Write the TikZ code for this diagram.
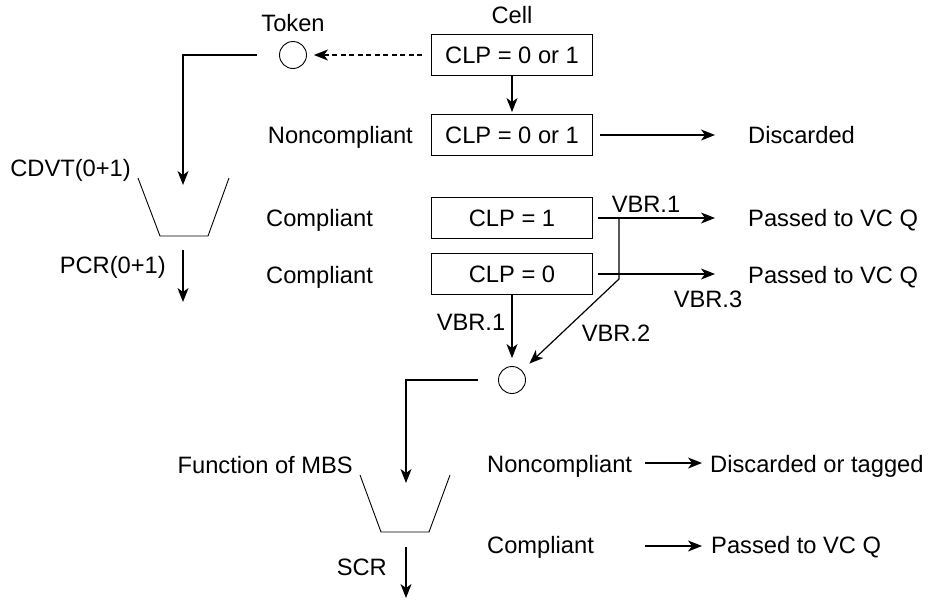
\documentclass[tikz,border=0pt]{standalone}
\usepackage{fontspec}
\setmainfont{Liberation Sans}
\usetikzlibrary{arrows.meta}
\begin{document}
\begin{tikzpicture}[x=1pt,y=-1pt,
  every node/.style={font=\fontsize{23.7}{28}\selectfont},
  lbl/.style={inner sep=0pt},
  clpbox/.style={draw,line width=0.9pt,minimum width=161pt,minimum height=41pt,inner sep=0pt},
  tokcirc/.style={draw,circle,line width=0.9pt,minimum size=27pt,inner sep=0pt},
  flow/.style={line width=1.2pt,-{Stealth[length=14pt,width=11pt,inset=4pt]}},
  funnel/.style={line width=0.9pt}]
\useasboundingbox (0,0) rectangle (931,600);

% upper path: cell, token and policing by PCR(0+1)
\node[lbl,anchor=base] (cell) at (512,23) {Cell};
\node[clpbox] (b1) at (512,55) {CLP = 0 or 1};
\node[tokcirc] (tok) at (293,55) {};
\node[lbl,anchor=base] (toklbl) at (293,31) {Token};
\node[clpbox] (b2) at (512,135) {CLP = 0 or 1};
\node[lbl,anchor=base east] (nc1) at (413,143) {Noncompliant};
\node[lbl,anchor=base west] (disc) at (748,143) {Discarded};
\node[clpbox] (b3) at (512,218) {CLP = 1};
\node[clpbox] (b4) at (512,274) {CLP = 0};
\node[lbl,anchor=base west] (cp1) at (266,226) {Compliant};
\node[lbl,anchor=base west] (cp2) at (266,283) {Compliant};
\node[lbl,anchor=base west] (pass1) at (748,226) {Passed to VC Q};
\node[lbl,anchor=base west] (pass2) at (748,283) {Passed to VC Q};
\node[lbl,anchor=base east] (cdvt) at (131,176) {CDVT(0+1)};
\node[lbl,anchor=base east] (pcr) at (166,273) {PCR(0+1)};

% first leaky bucket
\draw[funnel] (138,178) -- (160,236) -- (208,236) -- (229,178);
\coordinate (f1in) at (183,185);
\coordinate (f1out) at (183,250);
\coordinate (f1end) at (183,302);

\draw[line width=1.2pt,dash pattern=on 5pt off 3.5pt,-{Stealth[length=14pt,width=11pt,inset=4pt]},shorten <=9pt,shorten >=7pt] (b1.west) -- (tok.east);
\draw[flow] ([xshift=-22pt]tok.west) -| (f1in);
\draw[flow,shorten >=2pt] (b1.south) -- (b2.north);
\draw[flow,shorten <=7pt,shorten >=33pt] (b2.east) -- (b2.east -| disc.west);
\draw[flow] (f1out) -- (f1end);
\draw[flow,shorten <=5pt,shorten >=33pt] (b3.east) -- (b3.east -| pass1.west);
\draw[flow,shorten <=5pt,shorten >=33pt] (b4.east) -- (b4.east -| pass2.west);

% VBR labels and the merge into the second token
\node[lbl,anchor=base] (vbr1a) at (646,212) {VBR.1};
\node[lbl,anchor=base] (vbr3) at (708,307) {VBR.3};
\node[lbl,anchor=base] (vbr2) at (616,341) {VBR.2};
\node[lbl,anchor=base] (vbr1b) at (471,330) {VBR.1};
\node[tokcirc] (c2) at (512,380) {};
\coordinate (j1) at (619,218);
\coordinate (j2) at (619,279);
\draw[flow,shorten >=10pt] (j1) -- (j2) -- (c2);
\draw[flow,shorten >=8pt] (b4.south) -- (c2.north);

% second leaky bucket (MBS)
\draw[funnel] (360,475) -- (381,532) -- (429,532) -- (450,475);
\coordinate (f2in) at (406,483);
\coordinate (f2out) at (406,547);
\coordinate (f2end) at (406,598);
\node[lbl,anchor=base east] (mbs) at (353,473) {Function of MBS};
\node[lbl,anchor=base east] (scr) at (387,575) {SCR};
\draw[flow] ([xshift=-20pt]c2.west) -| (f2in);
\draw[flow] (f2out) -- (f2end);

\node[lbl,anchor=base west] (nc2) at (487,472) {Noncompliant};
\node[lbl,anchor=base west] (cp3) at (487,553) {Compliant};
\node[lbl,anchor=base west] (dt) at (710,472) {Discarded or tagged};
\node[lbl,anchor=base west] (pass3) at (711,553) {Passed to VC Q};
\coordinate (a1s) at (645,463);
\coordinate (a2s) at (645,546);
\draw[flow,shorten >=8pt] (a1s) -- (a1s -| dt.west);
\draw[flow,shorten >=9pt] (a2s) -- (a2s -| pass3.west);
\end{tikzpicture}
\end{document}
